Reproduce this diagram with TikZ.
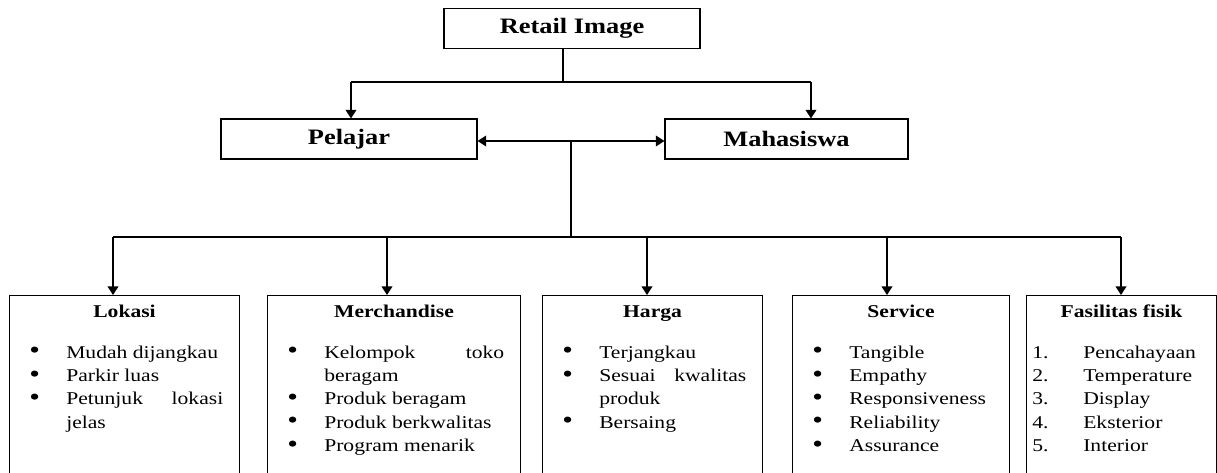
\documentclass[tikz,border=0pt]{standalone}
\usepackage{fontspec}
\setmainfont{Liberation Serif}[FakeStretch=1.2]
\usetikzlibrary{arrows.meta}

\hyphenpenalty=10000
\exhyphenpenalty=10000
\newcommand{\bigdot}{\raisebox{-0.6pt}{\fontsize{19}{17.5}\selectfont\textbullet}}
\newcommand{\bul}[1]{\noindent\hangindent=27.75pt\hangafter=1\makebox[27.75pt][l]{\bigdot}#1\par}
\newcommand{\numit}[2]{\noindent\hangindent=38.25pt\hangafter=1\makebox[38.25pt][l]{#1.}#2\par}

\begin{document}
\begin{tikzpicture}[
  x=0.75pt, y=-0.75pt,
  font=\fontsize{13.5}{17.5}\selectfont,
  >={Triangle[length=6.5pt,width=8pt]},
  box/.style={draw, line width=0.8pt, inner sep=0pt},
  head/.style={box, minimum height=30pt, font=\fontsize{16.5}{19}\selectfont\bfseries},
  crit/.style={box, anchor=north west, minimum height=153.75pt},
  ttl/.style={anchor=base, inner sep=0pt, font=\fontsize{13.5}{16}\selectfont\bfseries},
  lst/.style={anchor=base west, inner sep=0pt, align=justify},
  ln/.style={line width=0.8pt},
  arr/.style={->, line width=1.4pt},
]
\useasboundingbox (0,0) rectangle (1217,472);
\clip (0,0) rectangle (1217,472);

% top level
\node[head, minimum width=192pt] (ri) at (572,28.5) {Retail Image};
\node[head, minimum width=192pt] (pel) at (349,139) {Pelajar};
\node[head, minimum width=182.25pt] (mah) at (786.5,139) {Mahasiswa};

% criteria boxes
\node[crit, minimum width=172.5pt] (lok) at (9,295) {};
\node[crit, minimum width=189.75pt] (mer) at (267,295) {};
\node[crit, minimum width=165pt] (har) at (542,295) {};
\node[crit, minimum width=162.75pt] (ser) at (792,295) {};
\node[crit, minimum width=142.5pt] (fas) at (1026,295) {};

\node[ttl] (lokT) at ([yshift=-16.5pt]lok.north) {Lokasi};
\node[ttl] (merT) at ([yshift=-16.5pt]mer.north) {Merchandise};
\node[ttl] (harT) at ([yshift=-16.5pt]har.north) {Harga};
\node[ttl] (serT) at ([yshift=-16.5pt]ser.north) {Service};
\node[ttl] (fasT) at ([yshift=-16.5pt]fas.north) {Fasilitas fisik};

\node[lst, text width=145.5pt] (lokL) at ([xshift=15pt, yshift=-47.25pt]lok.north west)
  {\bul{Mudah dijangkau}\bul{Parkir luas}\bul{Petunjuk lokasi jelas}};
\node[lst, text width=162.75pt] (merL) at ([xshift=15pt, yshift=-47.25pt]mer.north west)
  {\bul{Kelompok toko beragam}\bul{Produk beragam}\bul{Produk berkwalitas}\bul{Program menarik}};
\node[lst, text width=138pt] (harL) at ([xshift=15pt, yshift=-47.25pt]har.north west)
  {\bul{Terjangkau}\bul{Sesuai kwalitas produk}\bul{Bersaing}};
\node[lst, text width=135.75pt] (serL) at ([xshift=15pt, yshift=-47.25pt]ser.north west)
  {\bul{Tangible}\bul{Empathy}\bul{Responsiveness}\bul{Reliability}\bul{Assurance}};
\node[lst, text width=129pt] (fasL) at ([xshift=4.5pt, yshift=-47.25pt]fas.north west)
  {\numit{1}{Pencahayaan}\numit{2}{Temperature}\numit{3}{Display}\numit{4}{Eksterior}\numit{5}{Interior}};

% connectors
\coordinate (j1) at (563,82);
\coordinate (jl) at (351,82);
\coordinate (jr) at (811,82);
\draw[ln] (ri.south -| j1) -- (j1);
\draw[ln] (jl) -- (jr);
\draw[arr] (jl) -- (jl |- pel.north);
\draw[arr] (jr) -- (jr |- mah.north);
\draw[<->, line width=1.2pt] ([yshift=-1.5pt]pel.east) -- ([yshift=-1.5pt]mah.west);

\coordinate (j2) at (571,237);
\draw[ln] ([yshift=-1.5pt]pel.east -| j2) -- (j2);
\foreach \n/\x in {lok/113, mer/387, har/647, ser/887, fas/1121}
  \coordinate (d\n) at (\x,237);
\draw[ln] (dlok) -- (dfas);
\foreach \n in {lok, mer, har, ser, fas}
  \draw[arr] (d\n) -- (d\n |- \n.north);
\end{tikzpicture}
\end{document}
